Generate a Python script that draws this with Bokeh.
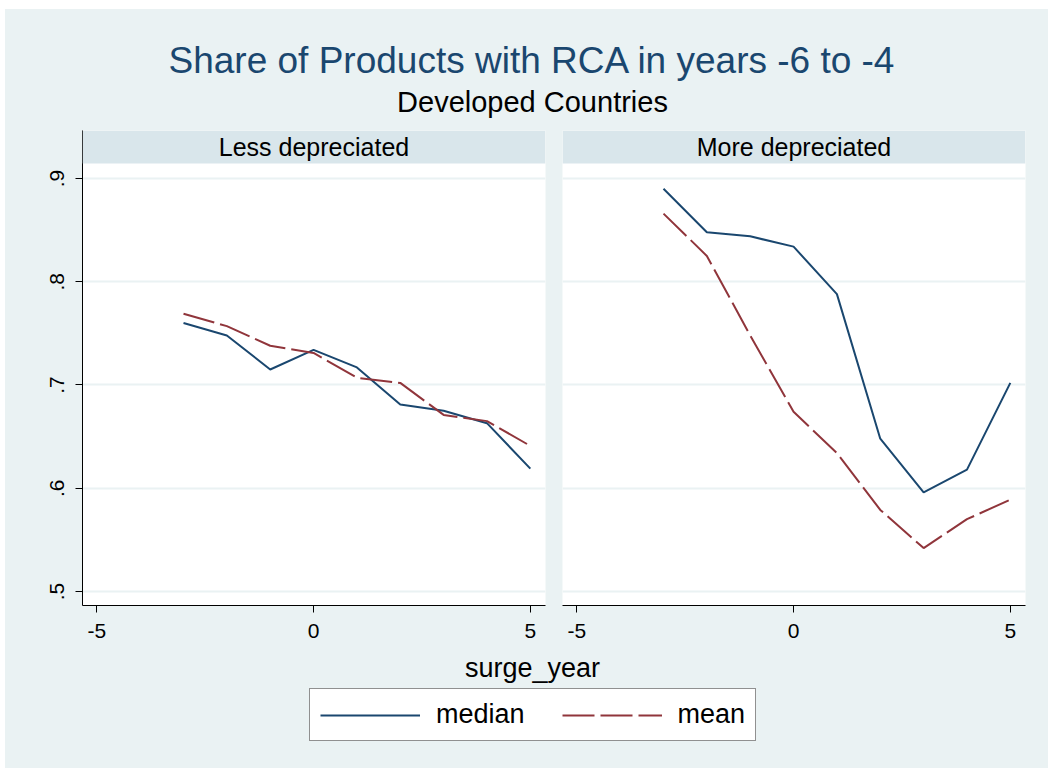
from bokeh.plotting import figure
from bokeh.layouts import column, row
from bokeh.models import Range1d, FixedTicker, Label, BoxAnnotation, Legend, LegendItem, Grid
from bokeh.embed import file_html
from bokeh.resources import INLINE

# ---------------- data ----------------
SURGE_YEAR = [-3, -2, -1, 0, 1, 2, 3, 4, 5]
MEDIAN_LESS = [0.760, 0.748, 0.715, 0.734, 0.717, 0.681, 0.675, 0.663, 0.619]
MEAN_LESS = [0.769, 0.757, 0.738, 0.731, 0.707, 0.702, 0.671, 0.665, 0.641]
MEDIAN_MORE = [0.890, 0.848, 0.844, 0.834, 0.788, 0.648, 0.596, 0.618, 0.702]
MEAN_MORE = [0.866, 0.825, 0.748, 0.674, 0.634, 0.579, 0.542, 0.570, 0.589]
PANELS = ["Less depreciated", "More depreciated"]
SERIES = ["median", "mean"]
X_TICKS = [-5, 0, 5]
X_TICK_LABELS = ["-5", "0", "5"]
Y_TICKS = [0.5, 0.6, 0.7, 0.8, 0.9]
Y_TICK_LABELS = [".5", ".6", ".7", ".8", ".9"]
TITLE = "Share of Products with RCA in years -6 to -4"
SUBTITLE = "Developed Countries"
X_TITLE = "surge_year"

# ---------------- style ----------------
BG = "#EAF2F3"
HDR = "#D9E6EB"
C_MED = "#1a476f"
C_MEAN = "#90353b"
FONT = "Liberation Sans"
DASH = "32 6"
X_RANGE = (-5.33, 5.35)
Y_DATA_TOP = 0.9145
Y_RANGE = (0.4864, 0.9465)
PANEL_H = 515
TICK_FS = "21px"


def panel(name, med, mean, show_y, width, mbl, mbr):
    p = figure(width=width, height=PANEL_H,
               x_range=Range1d(*X_RANGE), y_range=Range1d(*Y_RANGE),
               output_backend="svg", toolbar_location=None,
               y_axis_location="left" if show_y else None,
               min_border_left=mbl, min_border_right=mbr,
               min_border_top=0, min_border_bottom=40,
               background_fill_color="white", border_fill_color=BG,
               outline_line_color=None)
    for g in p.grid:
        g.visible = False
    p.add_layout(Grid(dimension=1, ticker=FixedTicker(ticks=Y_TICKS),
                      grid_line_color=BG, grid_line_width=2))
    p.line(SURGE_YEAR, med, line_color=C_MED, line_width=2)
    p.line(SURGE_YEAR, mean, line_color=C_MEAN, line_width=2, line_dash=DASH)

    ax = p.xaxis[0]
    ax.ticker = FixedTicker(ticks=X_TICKS)
    ax.major_label_overrides = {t: s for t, s in zip(X_TICKS, X_TICK_LABELS)}
    ax.minor_tick_line_color = None
    ax.major_tick_in = 0
    ax.major_tick_out = 7
    ax.major_label_standoff = 11
    ax.major_label_text_font = FONT
    ax.major_label_text_font_size = TICK_FS
    ax.major_label_text_color = "black"
    ax.axis_line_color = "black"
    ax.major_tick_line_color = "black"
    if show_y:
        ay = p.yaxis[0]
        ay.ticker = FixedTicker(ticks=Y_TICKS)
        ay.major_label_overrides = {t: s for t, s in zip(Y_TICKS, Y_TICK_LABELS)}
        ay.major_label_orientation = "vertical"
        ay.minor_tick_line_color = None
        ay.major_tick_in = 0
        ay.major_tick_out = 7
        ay.major_label_standoff = 11
        ay.major_label_text_font = FONT
        ay.major_label_text_font_size = TICK_FS
        ay.major_label_text_color = "black"
        ay.axis_line_color = "black"
        ay.major_tick_line_color = "black"

    p.add_layout(BoxAnnotation(bottom=Y_DATA_TOP, fill_color=HDR, fill_alpha=1.0,
                               line_alpha=0))
    frame_w = width - mbl - mbr
    p.add_layout(Label(x=frame_w / 2, y=459, x_units="screen", y_units="screen",
                       text=name, text_align="center", text_baseline="middle",
                       text_font=FONT, text_font_size="25px", text_color="black"))
    return p


left = panel(PANELS[0], MEDIAN_LESS, MEAN_LESS, True, 548, 77, 8)
right = panel(PANELS[1], MEDIAN_MORE, MEAN_MORE, False, 495, 9, 23)

# ---------------- title strip ----------------
top = figure(width=1043, height=121, output_backend="svg", toolbar_location=None,
             x_axis_location=None, y_axis_location=None,
             x_range=Range1d(0, 1), y_range=Range1d(0, 1),
             min_border=0, background_fill_color=BG, border_fill_color=BG,
             outline_line_color=None)
top.grid.visible = False
top.add_layout(Label(x=527, y=70, x_units="screen", y_units="screen", text=TITLE,
                     text_align="center", text_baseline="middle", text_font=FONT,
                     text_font_size="37px", text_color=C_MED))
top.add_layout(Label(x=527, y=29, x_units="screen", y_units="screen", text=SUBTITLE,
                     text_align="center", text_baseline="middle", text_font=FONT,
                     text_font_size="29px", text_color="black"))

# ---------------- bottom strip (axis title + legend) ----------------
bot = figure(width=1043, height=123, output_backend="svg", toolbar_location=None,
             x_axis_location=None, y_axis_location=None,
             x_range=Range1d(*X_RANGE), y_range=Range1d(0, 1),
             min_border=0, background_fill_color=BG, border_fill_color=BG,
             outline_line_color=None)
bot.grid.visible = False
r_med = bot.line(SURGE_YEAR, MEDIAN_LESS, line_color=C_MED, line_width=2, visible=False)
r_mean = bot.line(SURGE_YEAR, MEAN_LESS, line_color=C_MEAN, line_width=2,
                  line_dash=DASH, visible=False)
bot.add_layout(Label(x=527, y=101, x_units="screen", y_units="screen", text=X_TITLE,
                     text_align="center", text_baseline="middle", text_font=FONT,
                     text_font_size="27px", text_color="black"))
legend = Legend(items=[LegendItem(label=SERIES[0], renderers=[r_med]),
                       LegendItem(label=SERIES[1], renderers=[r_mean])],
                location=(304, 27), orientation="horizontal",
                click_policy="none",
                glyph_width=100, glyph_height=30, label_height=30,
                label_standoff=16, spacing=37, padding=10, margin=0,
                label_text_font=FONT, label_text_font_size="27px",
                label_text_color="black",
                border_line_color="#222222", border_line_width=1,
                background_fill_color="white", background_fill_alpha=1.0)
bot.add_layout(legend, "center")

layout = column(top, row(left, right, styles={"background-color": BG}), bot,
                margin=(9, 0, 0, 5), styles={"background-color": BG})
open("out.html", "w").write(file_html(layout, INLINE))
